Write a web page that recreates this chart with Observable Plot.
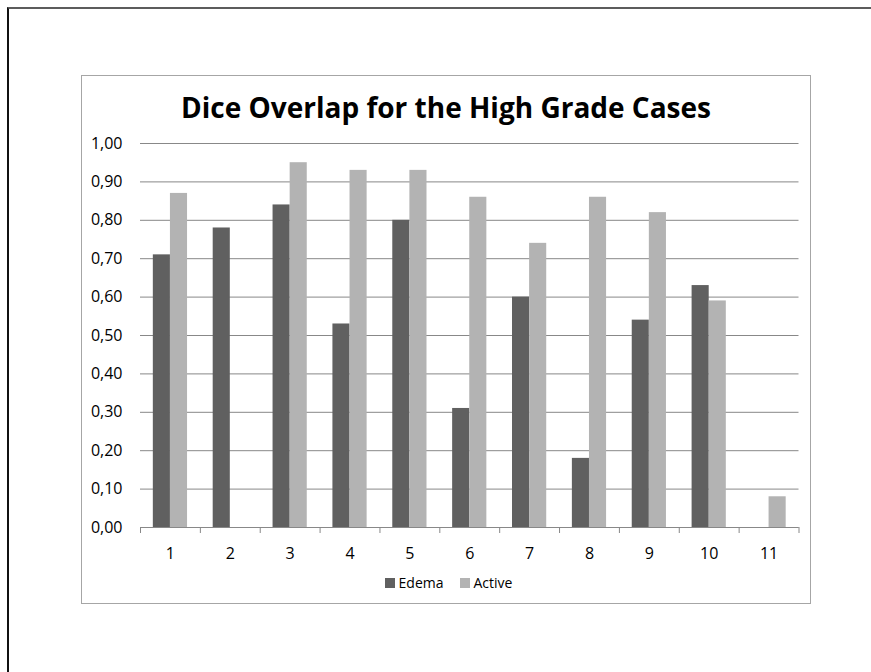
<!DOCTYPE html>
<html>
<head>
<meta charset="utf-8">
<script src="https://cdn.jsdelivr.net/npm/d3@7"></script>
<script src="https://cdn.jsdelivr.net/npm/@observablehq/plot@0.6"></script>
<style>
  html, body { margin: 0; padding: 0; background: #fff; }
  body { position: relative; width: 871px; height: 672px; overflow: hidden; font-family: "Open Sans", sans-serif; }
  #sheet { position: absolute; left: 7px; top: 7px; width: 900px; height: 700px;
           border-top: 2px solid #5c5c5c; border-left: 2px solid #111; }
  #frame { position: absolute; left: 81px; top: 75px; width: 730px; height: 529px;
           box-sizing: border-box; border: 1px solid #a6a6a6; }
  #title { position: absolute; left: 81px; top: 93px; width: 730px; text-align: center;
           font: bold 28px/28px "Open Sans", sans-serif; color: #000; }
  #chart { position: absolute; left: 81px; top: 130px; }
  #legend { position: absolute; left: 81px; top: 575px; width: 730px; box-sizing: border-box;
            padding-left: 5px; display: flex; justify-content: center; gap: 16px;
            font: 14px/16px "Open Sans", sans-serif; color: #000; }
  #legend span.item { display: flex; align-items: center; gap: 4px; }
  #legend span.sw { display: inline-block; width: 10px; height: 10px; }
</style>
</head>
<body>
<div id="sheet"></div>
<div id="frame"></div>
<div id="title">Dice Overlap for the High Grade Cases</div>
<div id="chart"></div>
<div id="legend"></div>
<script>
// Dice overlap per high grade case, for the edema and active tumour regions
const cases = ["1", "2", "3", "4", "5", "6", "7", "8", "9", "10", "11"];
const series = ["Edema", "Active"];
const edema  = [0.71, 0.78, 0.84, 0.53, 0.80, 0.31, 0.60, 0.18, 0.54, 0.63, null];
const active = [0.87, null, 0.95, 0.93, 0.93, 0.86, 0.74, 0.86, 0.82, 0.59, 0.08];
const yTicks = [0, 0.1, 0.2, 0.3, 0.4, 0.5, 0.6, 0.7, 0.8, 0.9, 1.0];
const colors = ["#606060", "#b3b3b3"];

const rows = [];
cases.forEach((c, i) => {
  if (edema[i] != null) rows.push({case: c, series: "Edema", value: edema[i]});
  if (active[i] != null) rows.push({case: c, series: "Active", value: active[i]});
});

const width = 729, height = 437;
const marginLeft = 59, marginRight = 11.5, marginTop = 13, marginBottom = 40;
const step = (width - marginLeft - marginRight) / cases.length;
// two bars per category, gap between categories 150% of a bar width
const barW = step / 3.5;
const outer = step * 0.75 / 3.5;
const gridColor = "#888888";

const chart = Plot.plot({
  width, height, marginLeft, marginRight, marginTop, marginBottom,
  style: {fontFamily: "'Open Sans', sans-serif", fontSize: "16px", color: "#000", background: "transparent"},
  x: {type: "band", domain: cases, padding: 0, round: false},
  y: {domain: [0, 1]},
  color: {domain: series, range: colors},
  marks: [
    Plot.gridY(yTicks, {stroke: gridColor, strokeOpacity: 1}),
    Plot.barY(rows.filter(d => d.series === "Edema"),
      {x: "case", y: "value", fill: "series", insetLeft: outer, insetRight: step - outer - barW}),
    Plot.barY(rows.filter(d => d.series === "Active"),
      {x: "case", y: "value", fill: "series", insetLeft: outer + barW, insetRight: outer}),
    Plot.ruleY([0], {stroke: gridColor}),
    // category boundary ticks
    Plot.axisX({ticks: cases, tickSize: 6, tickFormat: () => "", label: null,
                dx: -step / 2, stroke: gridColor, strokeOpacity: 1}),
    Plot.axisX({ticks: cases.slice(-1), tickSize: 6, tickFormat: () => "", label: null,
                dx: step / 2, stroke: gridColor, strokeOpacity: 1}),
    Plot.axisX({tickSize: 0, tickPadding: 20, label: null, fontSize: 16}),
    Plot.axisY({ticks: yTicks, tickSize: 0, tickPadding: 18, label: null, fontSize: 16,
                tickFormat: d => d.toFixed(2).replace(".", ",")})
  ]
});
document.getElementById("chart").append(chart);

const legend = document.getElementById("legend");
series.forEach((s, i) => {
  const item = document.createElement("span");
  item.className = "item";
  const sw = document.createElement("span");
  sw.className = "sw";
  sw.style.background = colors[i];
  item.append(sw, document.createTextNode(s));
  legend.append(item);
});
</script>
</body>
</html>
